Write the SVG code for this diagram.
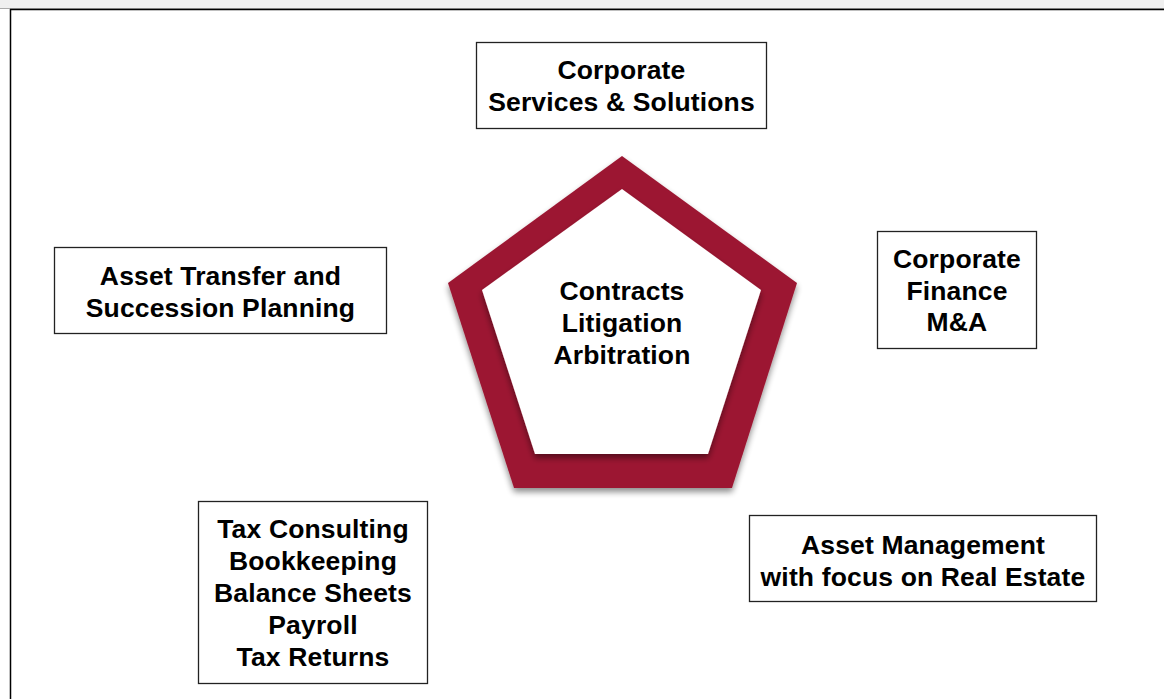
<svg xmlns="http://www.w3.org/2000/svg" width="1164" height="699" viewBox="0 0 1164 699">
<defs>
<style>
.box{fill:#fff;stroke:#222;stroke-width:1.3}
.t{font-family:"Liberation Sans",Arial,sans-serif;font-weight:bold;font-size:26.5px;letter-spacing:0.15px;fill:#000;text-anchor:middle}
</style>
<filter id="sh" x="-20%" y="-20%" width="140%" height="140%">
<feGaussianBlur in="SourceAlpha" stdDeviation="3"/>
<feOffset dx="0" dy="4" result="b"/>
<feComponentTransfer><feFuncA type="linear" slope="0.45"/></feComponentTransfer>
<feMerge><feMergeNode/><feMergeNode in="SourceGraphic"/></feMerge>
</filter>
</defs>
<rect x="0" y="0" width="1164" height="699" fill="#fff"/>
<rect x="0" y="0" width="1164" height="8" fill="#efefef"/>
<line x1="0" y1="8.5" x2="1164" y2="8.5" stroke="#aaa" stroke-width="1"/>
<line x1="10" y1="9.5" x2="1164" y2="9.5" stroke="#000" stroke-width="1.5"/>
<line x1="10.5" y1="9" x2="10.5" y2="699" stroke="#000" stroke-width="1.5"/>

<g id="center">
<polygon points="622,156 797,283 732,488 514,488 448,283" fill="#9c1832" filter="url(#sh)"/>
<polygon points="622,189 761,290 708,454 535,454 482,290" fill="#fff" filter="url(#sh)"/>
<text class="t" x="622" y="300">Contracts</text>
<text class="t" x="622" y="332">Litigation</text>
<text class="t" x="622" y="364">Arbitration</text>
</g>

<g id="corporate-services">
<rect class="box" x="476.5" y="42.5" width="290" height="86"/>
<text class="t" x="621.5" y="79">Corporate</text>
<text class="t" x="621.5" y="111">Services &amp; Solutions</text>
</g>

<g id="asset-transfer">
<rect class="box" x="54.5" y="247.5" width="332" height="86"/>
<text class="t" x="220.5" y="285">Asset Transfer and</text>
<text class="t" x="220.5" y="317">Succession Planning</text>
</g>

<g id="corporate-finance">
<rect class="box" x="877.5" y="231.5" width="159" height="117"/>
<text class="t" x="957" y="268">Corporate</text>
<text class="t" x="957" y="300">Finance</text>
<text class="t" x="957" y="331">M&amp;A</text>
</g>

<g id="asset-management">
<rect class="box" x="749.5" y="515.5" width="347" height="86"/>
<text class="t" x="923" y="554">Asset Management</text>
<text class="t" x="923" y="586">with focus on Real Estate</text>
</g>

<g id="tax">
<rect class="box" x="198.5" y="501.5" width="229" height="182"/>
<text class="t" x="313" y="538">Tax Consulting</text>
<text class="t" x="313" y="570">Bookkeeping</text>
<text class="t" x="313" y="602">Balance Sheets</text>
<text class="t" x="313" y="634">Payroll</text>
<text class="t" x="313" y="666">Tax Returns</text>
</g>

<g id="connectors"></g>
</svg>
